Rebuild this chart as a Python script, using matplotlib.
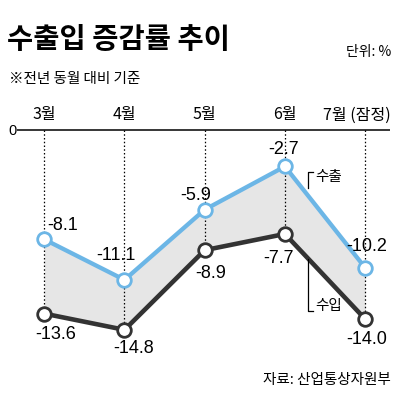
import matplotlib
matplotlib.use("Agg")
import matplotlib.pyplot as plt
from matplotlib.lines import Line2D

# ---- data ----
months = ["3월", "4월", "5월", "6월", "7월 (잠정)"]
exports = [-8.1, -11.1, -5.9, -2.7, -10.2]
imports = [-13.6, -14.8, -8.9, -7.7, -14.0]
title = "수출입 증감률 추이"
unit = "단위: %"
note = "※전년 동월 대비 기준"
source = "자료: 산업통상자원부"
series_names = ["수출", "수입"]

W, H = 402, 406
fig = plt.figure(figsize=(W / 100, H / 100), dpi=100)
fig.patch.set_facecolor("white")

KR = ["Noto Sans CJK KR", "DejaVu Sans"]
NUM = ["Liberation Sans", "Noto Sans CJK KR"]

BLUE = "#6cb6e6"
DARK = "#333333"
FILL = "#e6e6e6"

def fx(px):
    return px / W

def fy(py):
    return 1 - py / H

# axes placed in pixel box
left_px, right_px, top_px, bot_px = 17, 390, 120, 350
ax = fig.add_axes([fx(left_px), fy(bot_px), (right_px - left_px) / W, (bot_px - top_px) / H])
x = list(range(len(months)))
ax.set_xlim(-0.340, 4.310)
ax.set_ylim(-16.22, 0.815)
ax.axis("off")

# zero line
ax.axhline(0, color="black", lw=1.1, zorder=2)

# dotted verticals from zero to import value
for xi, v in zip(x, imports):
    ax.plot([xi, xi], [0, v], color="black", lw=0.9, ls=(0, (1.2, 1.8)), zorder=1)

ax.fill_between(x, exports, imports, color=FILL, zorder=0, lw=0)

ax.plot(x, imports, color=DARK, lw=3.3, zorder=3, solid_capstyle="round",
        marker="o", ms=9.8, mfc="white", mec=DARK, mew=2.0)
ax.plot(x, exports, color=BLUE, lw=3.1, zorder=4, solid_capstyle="round",
        marker="o", ms=9.8, mfc="white", mec=BLUE, mew=2.0)

exp_off = [(18, -15), (-9, -25), (-9, -15), (-1, -18), (2, -22)]
imp_off = [(11, 20), (9, 18), (6, 22), (-6, 24), (2, 19)]
for xi, v, (dx, dy) in zip(x, exports, exp_off):
    ax.annotate(f"{v:.1f}", (xi, v), xytext=(dx, -dy), textcoords="offset pixels",
                ha="center", va="center", fontsize=13, family=NUM, color="black", zorder=6)
for xi, v, (dx, dy) in zip(x, imports, imp_off):
    ax.annotate(f"{v:.1f}", (xi, v), xytext=(dx, -dy), textcoords="offset pixels",
                ha="center", va="center", fontsize=13, family=NUM, color="black", zorder=6)

# month labels
for xi, m in zip(x[:-1], months[:-1]):
    ax.annotate(m, (xi, 0), xytext=(0, 17), textcoords="offset pixels",
                ha="center", va="center", fontsize=11.5, family=KR)
fig.text(fx(391), fy(115), months[-1], ha="right", va="center", fontsize=11.5, family=KR)
fig.text(fx(13), fy(131), "0", ha="center", va="center", fontsize=10.5, family=NUM)

# titles
fig.text(fx(7), fy(40), title, ha="left", va="center", fontsize=20.5, weight="bold", family=KR)
fig.text(fx(391), fy(52), unit, ha="right", va="center", fontsize=10, family=KR)
fig.text(fx(9), fy(79), note, ha="left", va="center", fontsize=10.5, family=KR)
fig.text(fx(391), fy(380), source, ha="right", va="center", fontsize=10.5, family=KR)

# series labels with brackets
def pline(xs, ys):
    fig.add_artist(Line2D([fx(a) for a in xs], [fy(b) for b in ys], color="black", lw=0.9,
                          transform=fig.transFigure))

pline([313, 308, 308], [173, 173, 189])
fig.text(fx(315), fy(177), series_names[0], ha="left", va="center", fontsize=10.5, family=KR)
pline([308, 308, 313], [260, 312, 312])
fig.text(fx(315), fy(306), series_names[1], ha="left", va="center", fontsize=10.5, family=KR)

fig.savefig("out.png", dpi=100)
